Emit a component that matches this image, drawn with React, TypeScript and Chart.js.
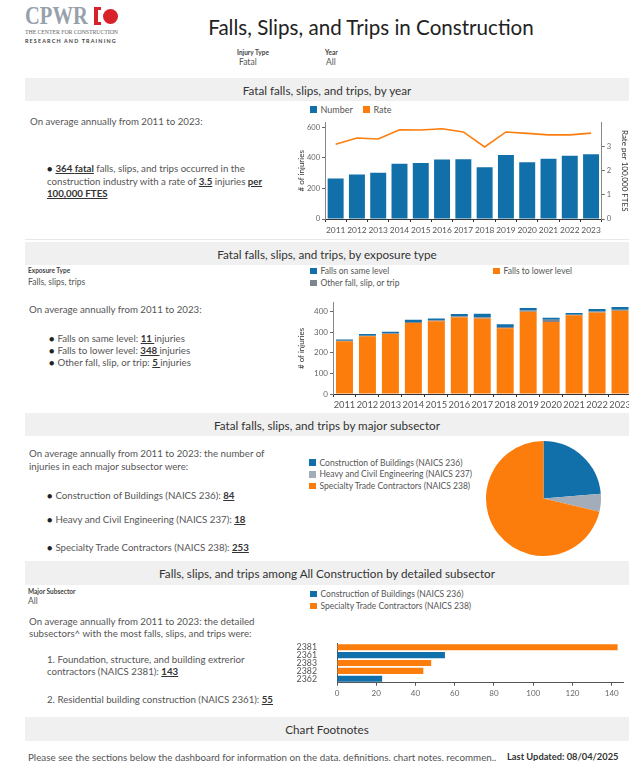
import React, { useEffect, useRef } from "react";
import { Chart, registerables } from "chart.js";

Chart.register(...registerables);

// ---------- DATA ----------
const years = ["2011", "2012", "2013", "2014", "2015", "2016", "2017", "2018", "2019", "2020", "2021", "2022", "2023"];
const numberInjuries = [265, 292, 303, 362, 367, 389, 391, 339, 419, 371, 394, 414, 424];
const ratePer100k = [3.08, 3.34, 3.3, 3.68, 3.67, 3.72, 3.59, 2.97, 3.59, 3.53, 3.47, 3.47, 3.54];
const injuryTicks = [0, 200, 400, 600];
const rateTicks = [0, 1, 2, 3];

const fallsSameLevel = [6, 8, 7, 11, 8, 11, 17, 13, 13, 9, 8, 12, 14];
const fallsLowerLevel = [257, 281, 292, 346, 354, 374, 367, 320, 401, 350, 383, 397, 405];
const otherFall = [2, 3, 4, 5, 5, 4, 7, 6, 5, 12, 3, 5, 5];
const exposureTicks = [0, 100, 200, 300, 400];

const subsectorLabels = [
  "Construction of Buildings (NAICS 236)",
  "Heavy and Civil Engineering (NAICS 237)",
  "Specialty Trade Contractors (NAICS 238)",
];
const subsectorValues = [84, 18, 253];

const detailCodes = ["2381", "2361", "2383", "2382", "2362"];
const detailValues = [143, 55, 48, 44, 23];
const detailGroup = ["238", "236", "238", "238", "236"];
const detailLegend = ["Construction of Buildings (NAICS 236)", "Specialty Trade Contractors (NAICS 238)"];
const detailTicks = [0, 20, 40, 60, 80, 100, 120, 140];

// ---------- STYLE ----------
const BLUE = "#1170aa";
const ORANGE = "#fc7d0b";
const GREY_DARK = "#7b848f";
const GREY_LIGHT = "#a3acb9";
const BAND = "#f0f0f0";
const FONT = "Lato, 'Noto Sans', sans-serif";
const BODY = 9.7;

Chart.defaults.font.family = FONT;

const fixTicks = (vals: number[]) => (s: any) => {
  s.ticks = vals.map((v) => ({ value: v }));
};

function ChartCanvas({ left, top, width, height, config }: any) {
  const ref = useRef<HTMLCanvasElement | null>(null);
  useEffect(() => {
    if (!ref.current) return;
    const chart = new Chart(ref.current, config);
    return () => chart.destroy();
  }, []);
  return (
    <canvas
      ref={ref}
      width={width}
      height={height}
      style={{ position: "absolute", left, top, width, height }}
    />
  );
}

function Txt({ x, cy, size, children, color, weight, style }: any) {
  return (
    <div
      style={{
        position: "absolute",
        left: x,
        top: cy - size * 0.65,
        fontSize: size,
        lineHeight: `${size * 1.3}px`,
        whiteSpace: "nowrap",
        color: color || "#555",
        fontWeight: weight || 400,
        ...style,
      }}
    >
      {children}
    </div>
  );
}

function Band({ top, height, title }: any) {
  return (
    <div
      style={{
        position: "absolute",
        left: 25,
        width: 604,
        top,
        height,
        background: BAND,
        display: "flex",
        alignItems: "center",
        justifyContent: "center",
        fontSize: 11.7,
        color: "#333",
        whiteSpace: "nowrap",
      }}
    >
      {title}
    </div>
  );
}

function LegendItem({ x, cy, color, label, size }: any) {
  const s = size || 8.5;
  return (
    <div style={{ position: "absolute", left: x, top: cy - 6, height: 12, display: "flex", alignItems: "center", whiteSpace: "nowrap" }}>
      <div style={{ width: 6.5, height: 6.5, background: color, marginRight: 4 }} />
      <span style={{ fontSize: s, color: "#555" }}>{label}</span>
    </div>
  );
}

const U = ({ children }: any) => (
  <b style={{ textDecoration: "underline", color: "#333", fontWeight: 700 }}>{children}</b>
);

const Bullet = () => <span style={{ fontSize: 9, color: "#222", marginRight: 3 }}>●</span>;

// ---------- CHART CONFIGS ----------
const axisGrid = { drawOnChartArea: false, tickLength: 3, color: "#666" };

const chart1Config: any = {
  type: "bar",
  data: {
    labels: years,
    datasets: [
      {
        type: "line",
        label: "Rate",
        data: ratePer100k,
        yAxisID: "y1",
        borderColor: ORANGE,
        backgroundColor: ORANGE,
        borderWidth: 1.6,
        pointRadius: 0,
        tension: 0,
        order: 0,
      },
      {
        type: "bar",
        label: "Number",
        data: numberInjuries,
        yAxisID: "y",
        backgroundColor: BLUE,
        barPercentage: 0.75,
        categoryPercentage: 1,
        order: 1,
      },
    ],
  },
  options: {
    responsive: false,
    animation: false,
    layout: { padding: { top: 4, left: 0, right: 0, bottom: 0 } },
    plugins: { legend: { display: false }, tooltip: { enabled: false } },
    scales: {
      x: {
        grid: { ...axisGrid, offset: true, color: "#333" },
        border: { color: "#333" },
        ticks: { font: { size: 8.4 }, color: "#555", padding: 3, maxRotation: 0, autoSkip: false },
        afterFit: (s: any) => { s.height = 17; },
      },
      y: {
        position: "left",
        min: 0,
        max: 632,
        afterBuildTicks: fixTicks(injuryTicks),
        ticks: { font: { size: 7.5 }, color: "#666", padding: 2 },
        grid: axisGrid,
        border: { color: "#888" },
        title: { display: true, text: "# of injuries", font: { size: 8 }, color: "#333", padding: { top: 7, bottom: 0 } },
        afterFit: (s: any) => { s.width = 35; },
      },
      y1: {
        position: "right",
        min: 0,
        max: 3.98,
        afterBuildTicks: fixTicks(rateTicks),
        ticks: { font: { size: 7.5 }, color: "#666", padding: 2 },
        grid: axisGrid,
        border: { color: "#888" },
        title: { display: true, text: "Rate per 100,000 FTES", font: { size: 8, lineHeight: 1 }, color: "#333", padding: { top: 0, bottom: 0 } },
        afterFit: (s: any) => { s.width = 27.3; },
      },
    },
  },
};

const chart2Config: any = {
  type: "bar",
  data: {
    labels: years,
    datasets: [
      { label: "Falls to lower level", data: fallsLowerLevel, backgroundColor: ORANGE },
      { label: "Other fall, slip, or trip", data: otherFall, backgroundColor: GREY_DARK },
      { label: "Falls on same level", data: fallsSameLevel, backgroundColor: BLUE },
    ].map((d) => ({ ...d, barPercentage: 0.74, categoryPercentage: 1 })),
  },
  options: {
    responsive: false,
    animation: false,
    layout: { padding: { top: 4, left: 0, right: 8.5, bottom: 0 } },
    plugins: { legend: { display: false }, tooltip: { enabled: false } },
    scales: {
      x: {
        stacked: true,
        grid: { ...axisGrid, offset: true, color: "#333" },
        border: { color: "#333" },
        ticks: { font: { size: 9.3 }, color: "#555", padding: 2, maxRotation: 0, autoSkip: false },
        afterFit: (s: any) => { s.height = 17; },
      },
      y: {
        stacked: true,
        min: 0,
        max: 444,
        afterBuildTicks: fixTicks(exposureTicks),
        ticks: { font: { size: 8 }, color: "#666", padding: 2 },
        grid: axisGrid,
        border: { color: "#888" },
        title: { display: true, text: "# of injuries", font: { size: 8 }, color: "#333", padding: { top: 7, bottom: 0 } },
        afterFit: (s: any) => { s.width = 43; },
      },
    },
  },
};

const pieConfig: any = {
  type: "pie",
  data: {
    labels: subsectorLabels,
    datasets: [
      {
        data: subsectorValues,
        backgroundColor: [BLUE, GREY_LIGHT, ORANGE],
        borderWidth: 0,
      },
    ],
  },
  options: {
    responsive: false,
    animation: false,
    radius: 57.5,
    plugins: { legend: { display: false }, tooltip: { enabled: false } },
  },
};

const chart4Config: any = {
  type: "bar",
  data: {
    labels: detailCodes,
    datasets: [
      {
        label: "Falls, slips, and trips",
        data: detailValues,
        backgroundColor: detailGroup.map((g) => (g === "236" ? BLUE : ORANGE)),
        barPercentage: 0.78,
        categoryPercentage: 1,
      },
    ],
  },
  options: {
    indexAxis: "y",
    responsive: false,
    animation: false,
    layout: { padding: { top: 5.3, left: 0, right: 5.5, bottom: 0 } },
    plugins: { legend: { display: false }, tooltip: { enabled: false } },
    scales: {
      x: {
        min: 0,
        max: 146,
        afterBuildTicks: fixTicks(detailTicks),
        ticks: { font: { size: 8 }, color: "#666", padding: 3 },
        grid: { ...axisGrid, color: "#555" },
        border: { color: "#555" },
        afterFit: (s: any) => { s.height = 21.3; },
      },
      y: {
        ticks: { font: { size: 8.8 }, color: "#555", padding: 20 },
        grid: { drawOnChartArea: false, drawTicks: false, color: "#555" },
        border: { color: "#555" },
        afterFit: (s: any) => { s.width = 47; },
      },
    },
  },
};

// ---------- APP ----------
export default function App() {
  return (
    <div
      style={{
        position: "absolute",
        left: 0,
        top: 0,
        width: 629,
        height: 761,
        overflow: "hidden",
        background: "#fff",
        fontFamily: FONT,
        color: "#555",
      }}
    >
      {/* Logo */}
      <div
        style={{
          position: "absolute",
          left: 25,
          top: 2,
          fontFamily: "'Liberation Serif', 'DejaVu Serif', serif",
          fontSize: 26,
          fontWeight: 700,
          lineHeight: "28px",
          color: "#97a1ab",
          transform: "scaleX(0.79)",
          transformOrigin: "left top",
        }}
      >
        CPWR
      </div>
      <div
        style={{
          position: "absolute",
          left: 94,
          top: 7,
          width: 7,
          height: 18,
          boxSizing: "border-box",
          borderLeft: "4px solid #d7222a",
          borderTop: "3px solid #d7222a",
          borderBottom: "3px solid #d7222a",
        }}
      />
      <div style={{ position: "absolute", left: 103, top: 8.5, width: 15, height: 15, borderRadius: "50%", background: "#d7222a" }} />
      <Txt x={25} cy={33} size={5.9} color="#666" style={{ fontFamily: "'Liberation Serif', serif", letterSpacing: -0.1 }}>
        THE CENTER FOR CONSTRUCTION
      </Txt>
      <Txt x={25} cy={42} size={5.4} color="#444" weight={700} style={{ letterSpacing: 1.15 }}>
        RESEARCH AND TRAINING
      </Txt>

      {/* Title */}
      <div
        style={{
          position: "absolute",
          left: 0,
          width: 742,
          top: 13,
          textAlign: "center",
          fontSize: 20.6,
          lineHeight: "28px",
          color: "#222",
          whiteSpace: "nowrap",
        }}
      >
        Falls, Slips, and Trips in Construction
      </div>

      {/* Filters */}
      <Txt x={237} cy={53} size={6.5} color="#444" weight={700}>Injury Type</Txt>
      <Txt x={239} cy={63} size={8.5} color="#555">Fatal</Txt>
      <Txt x={325} cy={53} size={6.5} color="#444" weight={700}>Year</Txt>
      <Txt x={326} cy={63} size={8.5} color="#555">All</Txt>

      {/* Section 1 */}
      <Band top={78} height={23} title="Fatal falls, slips, and trips, by year" />
      <Txt x={30} cy={121} size={BODY}>On average annually from 2011 to 2023:</Txt>
      <div style={{ position: "absolute", left: 47, top: 161.8, fontSize: BODY, lineHeight: "12.3px", color: "#555", whiteSpace: "nowrap" }}>
        <Bullet />
        <U>364 </U> <U>fatal</U> falls, slips, and trips occurred in the
        <br />
        construction industry with a rate of <U>3.5</U> injuries <U>per</U>
        <br />
        <U>100,000 FTES</U>
      </div>
      <LegendItem x={310} cy={109.5} color={BLUE} label="Number" size={9} />
      <LegendItem x={363} cy={109.5} color={ORANGE} label="Rate" size={9} />
      <ChartCanvas left={290} top={116} width={339} height={120} config={chart1Config} />
      <div style={{ position: "absolute", left: 25, width: 604, top: 239, height: 1, background: "#e8e8e8" }} />

      {/* Section 2 */}
      <Band top={242} height={23} title="Fatal falls, slips, and trips, by exposure type" />
      <Txt x={28} cy={271} size={6.5} color="#444" weight={700}>Exposure Type</Txt>
      <Txt x={28} cy={283} size={8.5}>Falls, slips, trips</Txt>
      <Txt x={29} cy={309} size={BODY}>On average annually from 2011 to 2023:</Txt>
      <Txt x={49} cy={338.3} size={BODY}><Bullet />Falls on same level: <U>11 </U> injuries</Txt>
      <Txt x={49} cy={350.3} size={BODY}><Bullet />Falls to lower level: <U>348 </U> injuries</Txt>
      <Txt x={49} cy={362.6} size={BODY}><Bullet />Other fall, slip, or trip: <U>5 </U> injuries</Txt>
      <LegendItem x={310} cy={271} color={BLUE} label="Falls on same level" />
      <LegendItem x={493} cy={271} color={ORANGE} label="Falls to lower level" />
      <LegendItem x={310} cy={283} color={GREY_DARK} label="Other fall, slip, or trip" />
      <ChartCanvas left={290} top={296} width={350} height={115} config={chart2Config} />

      {/* Section 3 */}
      <Band top={413} height={23} title="Fatal falls, slips, and trips by major subsector" />
      <Txt x={29} cy={453.3} size={BODY}>On average annually from 2011 to 2023: the number of</Txt>
      <Txt x={29} cy={466.7} size={BODY}>injuries in each major subsector were:</Txt>
      <Txt x={47} cy={495} size={BODY}><Bullet />{subsectorLabels[0]}: <U>{subsectorValues[0]}</U></Txt>
      <Txt x={47} cy={519.3} size={BODY}><Bullet />{subsectorLabels[1]}: <U>{subsectorValues[1]}</U></Txt>
      <Txt x={47} cy={547.5} size={BODY}><Bullet />{subsectorLabels[2]}: <U>{subsectorValues[2]}</U></Txt>
      <LegendItem x={309} cy={462.7} color={BLUE} label={subsectorLabels[0]} />
      <LegendItem x={309} cy={474.3} color={GREY_LIGHT} label={subsectorLabels[1]} />
      <LegendItem x={309} cy={486} color={ORANGE} label={subsectorLabels[2]} />
      <ChartCanvas left={480} top={435} width={127} height={127} config={pieConfig} />

      {/* Section 4 */}
      <Band top={561} height={24} title="Falls, slips, and trips among All Construction by detailed subsector" />
      <Txt x={28} cy={592} size={6.5} color="#444" weight={700}>Major Subsector</Txt>
      <Txt x={28} cy={602} size={8.5}>All</Txt>
      <Txt x={29} cy={621} size={BODY}>On average annually from 2011 to 2023: the detailed</Txt>
      <Txt x={29} cy={633.3} size={BODY}>subsectors^ with the most falls, slips, and trips were:</Txt>
      <Txt x={47} cy={659.3} size={BODY}>1. Foundation, structure, and building extrerior</Txt>
      <Txt x={47} cy={671} size={BODY}>contractors (NAICS 2381): <U>{detailValues[0]}</U></Txt>
      <Txt x={47} cy={699} size={BODY}>2. Residential building construction (NAICS 2361): <U>{detailValues[1]}</U></Txt>
      <LegendItem x={310} cy={594} color={BLUE} label={detailLegend[0]} />
      <LegendItem x={310} cy={606} color={ORANGE} label={detailLegend[1]} />
      <ChartCanvas left={290} top={618} width={339} height={90} config={chart4Config} />

      {/* Footnotes */}
      <Band top={717} height={24} title="Chart Footnotes" />
      <Txt x={28} cy={757.5} size={9.8}>
        Please see the sections below the dashboard for information on the data, definitions, chart notes, recommen..
      </Txt>
      <Txt x={507} cy={757.5} size={9.3} color="#333" weight={700}>Last Updated: 08/04/2025</Txt>
    </div>
  );
}
